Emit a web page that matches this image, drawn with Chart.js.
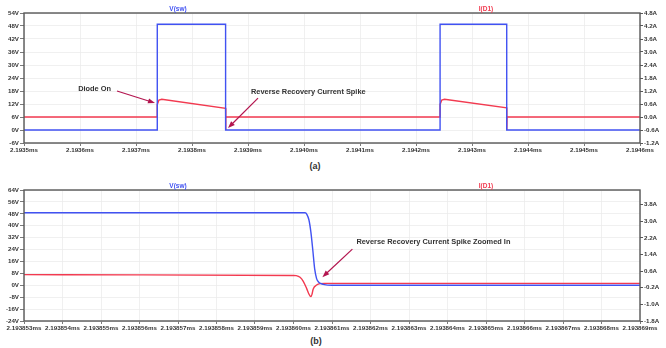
<!DOCTYPE html>
<html>
<head>
<meta charset="utf-8">
<script src="https://cdn.jsdelivr.net/npm/chart.js@4.4.1/dist/chart.umd.min.js"></script>
<style>
  body { margin: 0; background: #fff; }
  #wrap { position: relative; width: 666px; height: 348px; overflow: hidden; }
  canvas { position: absolute; left: 0; }
  #chartA { top: 0; }
  #chartB { top: 177px; }
  .cap { position: absolute; width: 40px; text-align: center; line-height: 12px;
         font: bold 9px "Liberation Sans", Arial, sans-serif; color: #333; }
</style>
</head>
<body>
<div id="wrap">
  <canvas id="chartA" width="666" height="158"></canvas>
  <canvas id="chartB" width="666" height="159"></canvas>
  <div class="cap" style="left:295px; top:161px;">(a)</div>
  <div class="cap" style="left:296px; top:336px;">(b)</div>
</div>
<script>
// (a) switching waveform over two cycles, time in ms
const vswTimeA = [2.1935, 2.193738, 2.193738, 2.19386, 2.19386, 2.194243, 2.194243, 2.194362, 2.194362, 2.1946];
const vswA     = [0, 0, 48.8, 48.8, 0, 0, 48.8, 48.8, 0, 0];
const idTimeA  = [2.1935, 2.193738, 2.193738, 2.193741, 2.193746, 2.19386, 2.1938602, 2.1938606,
                  2.194243, 2.194243, 2.194246, 2.194251, 2.194362, 2.1943622, 2.1943626, 2.1946];
const idA      = [0, 0, 0.58, 0.78, 0.82, 0.40, -0.6, 0, 0, 0.58, 0.78, 0.82, 0.42, -0.6, 0, 0];

// (b) zoom on the turn-off edge
const vswTimeB = [2.193853, 2.1938603, 2.19386035, 2.1938604, 2.19386045, 2.1938605, 2.19386055,
                  2.1938606, 2.19386065, 2.1938607, 2.1938608, 2.193861, 2.193869];
const vswB     = [48.7, 48.7, 47.5, 44, 36, 24, 11, 4.5, 2.2, 1.2, 0.4, 0.05, 0];
const idTimeB  = [2.193853, 2.193856, 2.19386, 2.19386007, 2.19386017, 2.19386025, 2.19386034,
                  2.1938604, 2.19386045, 2.19386048, 2.19386051, 2.1938606, 2.19386069, 2.1938608, 2.193869];
const idB      = [0.43, 0.42, 0.39, 0.38, 0.30, 0.12, -0.23, -0.5, -0.63, -0.52, -0.27, -0.07, 0.0, 0.01, 0.01];

// axis ticks
const xTicksA = [2.1935, 2.1936, 2.1937, 2.1938, 2.1939, 2.1940, 2.1941, 2.1942, 2.1943, 2.1944, 2.1945, 2.1946];
const xTicksB = [2.193853, 2.193854, 2.193855, 2.193856, 2.193857, 2.193858, 2.193859, 2.193860, 2.193861,
                 2.193862, 2.193863, 2.193864, 2.193865, 2.193866, 2.193867, 2.193868, 2.193869];
const vTicksA = [-6, 0, 6, 12, 18, 24, 30, 36, 42, 48, 54];
const iTicksA = [-1.2, -0.6, 0.0, 0.6, 1.2, 1.8, 2.4, 3.0, 3.6, 4.2, 4.8];
const vTicksB = [-24, -16, -8, 0, 8, 16, 24, 32, 40, 48, 56, 64];
const iTicksB = [-1.8, -1.0, -0.2, 0.6, 1.4, 2.2, 3.0, 3.8];

const BLUE = '#4152f2';
const RED = '#f23a50';
const ARROW = '#b3154f';
const TXT = '#333';
const FONT = '"Liberation Sans", Arial, sans-serif';

const pts = (t, v) => t.map((x, i) => ({ x: x, y: v[i] }));

// frame, trace names and callout arrows
const overlay = {
  id: 'overlay',
  afterDraw(chart, args, opts) {
    const { ctx, chartArea: a, scales } = chart;
    ctx.save();
    ctx.strokeStyle = '#585858';
    ctx.lineWidth = 1.4;
    ctx.strokeRect(a.left, a.top, a.right - a.left, a.bottom - a.top);

    ctx.font = 'bold 6.5px ' + FONT;
    ctx.textAlign = 'center';
    ctx.textBaseline = 'bottom';
    ctx.fillStyle = BLUE;
    ctx.fillText('V(sw)', a.left + (a.right - a.left) * 0.25, a.top - 1);
    ctx.fillStyle = RED;
    ctx.fillText('I(D1)', a.left + (a.right - a.left) * 0.75, a.top - 1);

    (opts.callouts || []).forEach(c => {
      const tx = scales.x.getPixelForValue(c.x);
      const ty = scales.y1.getPixelForValue(c.y);
      const sx = tx + c.dx, sy = ty + c.dy;
      const ang = Math.atan2(ty - sy, tx - sx);
      ctx.strokeStyle = ARROW;
      ctx.fillStyle = ARROW;
      ctx.lineWidth = 1.2;
      ctx.beginPath();
      ctx.moveTo(sx, sy);
      ctx.lineTo(tx - 5 * Math.cos(ang), ty - 5 * Math.sin(ang));
      ctx.stroke();
      ctx.beginPath();
      ctx.moveTo(tx, ty);
      ctx.lineTo(tx - 7 * Math.cos(ang) + 2.6 * Math.sin(ang), ty - 7 * Math.sin(ang) - 2.6 * Math.cos(ang));
      ctx.lineTo(tx - 7 * Math.cos(ang) - 2.6 * Math.sin(ang), ty - 7 * Math.sin(ang) + 2.6 * Math.cos(ang));
      ctx.closePath();
      ctx.fill();
      ctx.font = 'bold 7.4px ' + FONT;
      ctx.fillStyle = TXT;
      ctx.textAlign = c.align;
      ctx.textBaseline = 'middle';
      ctx.fillText(c.text, sx + c.tx, sy + c.ty);
    });
    ctx.restore();
  }
};

function makeChart(id, d) {
  const tickFont = { size: 6.2, weight: 'bold', family: FONT };
  return new Chart(document.getElementById(id), {
    type: 'line',
    data: {
      datasets: [
        { data: pts(d.vt, d.v), yAxisID: 'y', borderColor: BLUE, borderWidth: 1.4,
          pointRadius: 0, cubicInterpolationMode: d.smooth ? 'monotone' : 'default', tension: 0 },
        { data: pts(d.it, d.i), yAxisID: 'y1', borderColor: RED, borderWidth: 1.4,
          pointRadius: 0, cubicInterpolationMode: d.smooth ? 'monotone' : 'default', tension: 0 }
      ]
    },
    options: {
      responsive: false,
      animation: false,
      layout: { padding: { top: 13, left: 0, right: 0, bottom: 0 } },
      plugins: { legend: { display: false }, tooltip: { enabled: false }, overlay: { callouts: d.callouts } },
      scales: {
        x: {
          type: 'linear', min: d.xt[0], max: d.xt[d.xt.length - 1],
          afterBuildTicks: s => { s.ticks = d.xt.map(v => ({ value: v })); },
          afterFit: s => { s.height = 15; },
          border: { display: false },
          grid: { color: '#ececec', lineWidth: 0.8, tickColor: '#585858', tickLength: 3 },
          ticks: { color: TXT, font: tickFont, padding: 1, maxRotation: 0, autoSkip: false,
                   callback: (v, i) => d.xt[i].toFixed(d.dp) + 'ms' }
        },
        y: {
          position: 'left', min: d.vMin, max: d.vMax,
          afterBuildTicks: s => { s.ticks = d.vTicks.map(v => ({ value: v })); },
          afterFit: s => { s.width = 24; },
          border: { display: false },
          grid: { color: '#ececec', lineWidth: 0.8, tickColor: '#585858', tickLength: 4 },
          ticks: { color: TXT, font: tickFont, padding: 1, callback: (v, i) => d.vTicks[i] + 'V' }
        },
        y1: {
          position: 'right', min: d.iMin, max: d.iMax,
          afterBuildTicks: s => { s.ticks = d.iTicks.map(v => ({ value: v })); },
          afterFit: s => { s.width = 26; },
          border: { display: false },
          grid: { drawOnChartArea: false, tickColor: '#585858', tickLength: 3 },
          ticks: { color: TXT, font: tickFont, padding: 1, callback: (v, i) => d.iTicks[i].toFixed(1) + 'A' }
        }
      }
    },
    plugins: [overlay]
  });
}

makeChart('chartA', {
  vt: vswTimeA, v: vswA, it: idTimeA, i: idA, smooth: false,
  xt: xTicksA, dp: 4, vTicks: vTicksA, vMin: -6, vMax: 54, iTicks: iTicksA, iMin: -1.2, iMax: 4.8,
  callouts: [
    { text: 'Diode On', x: 2.1937339, y: 0.646, dx: -38, dy: -12, tx: -6, ty: -2, align: 'right' },
    { text: 'Reverse Recovery Current Spike', x: 2.1938643, y: -0.51, dx: 30, dy: -30, tx: -7, ty: -6, align: 'left' }
  ]
});

makeChart('chartB', {
  vt: vswTimeB, v: vswB, it: idTimeB, i: idB, smooth: true,
  xt: xTicksB, dp: 6, vTicks: vTicksB, vMin: -24, vMax: 64, iTicks: iTicksB, iMin: -1.8, iMax: 4.5,
  callouts: [
    { text: 'Reverse Recovery Current Spike Zoomed In', x: 2.19386075, y: 0.31, dx: 30, dy: -28, tx: 4, ty: -7.5, align: 'left' }
  ]
});
</script>
</body>
</html>
